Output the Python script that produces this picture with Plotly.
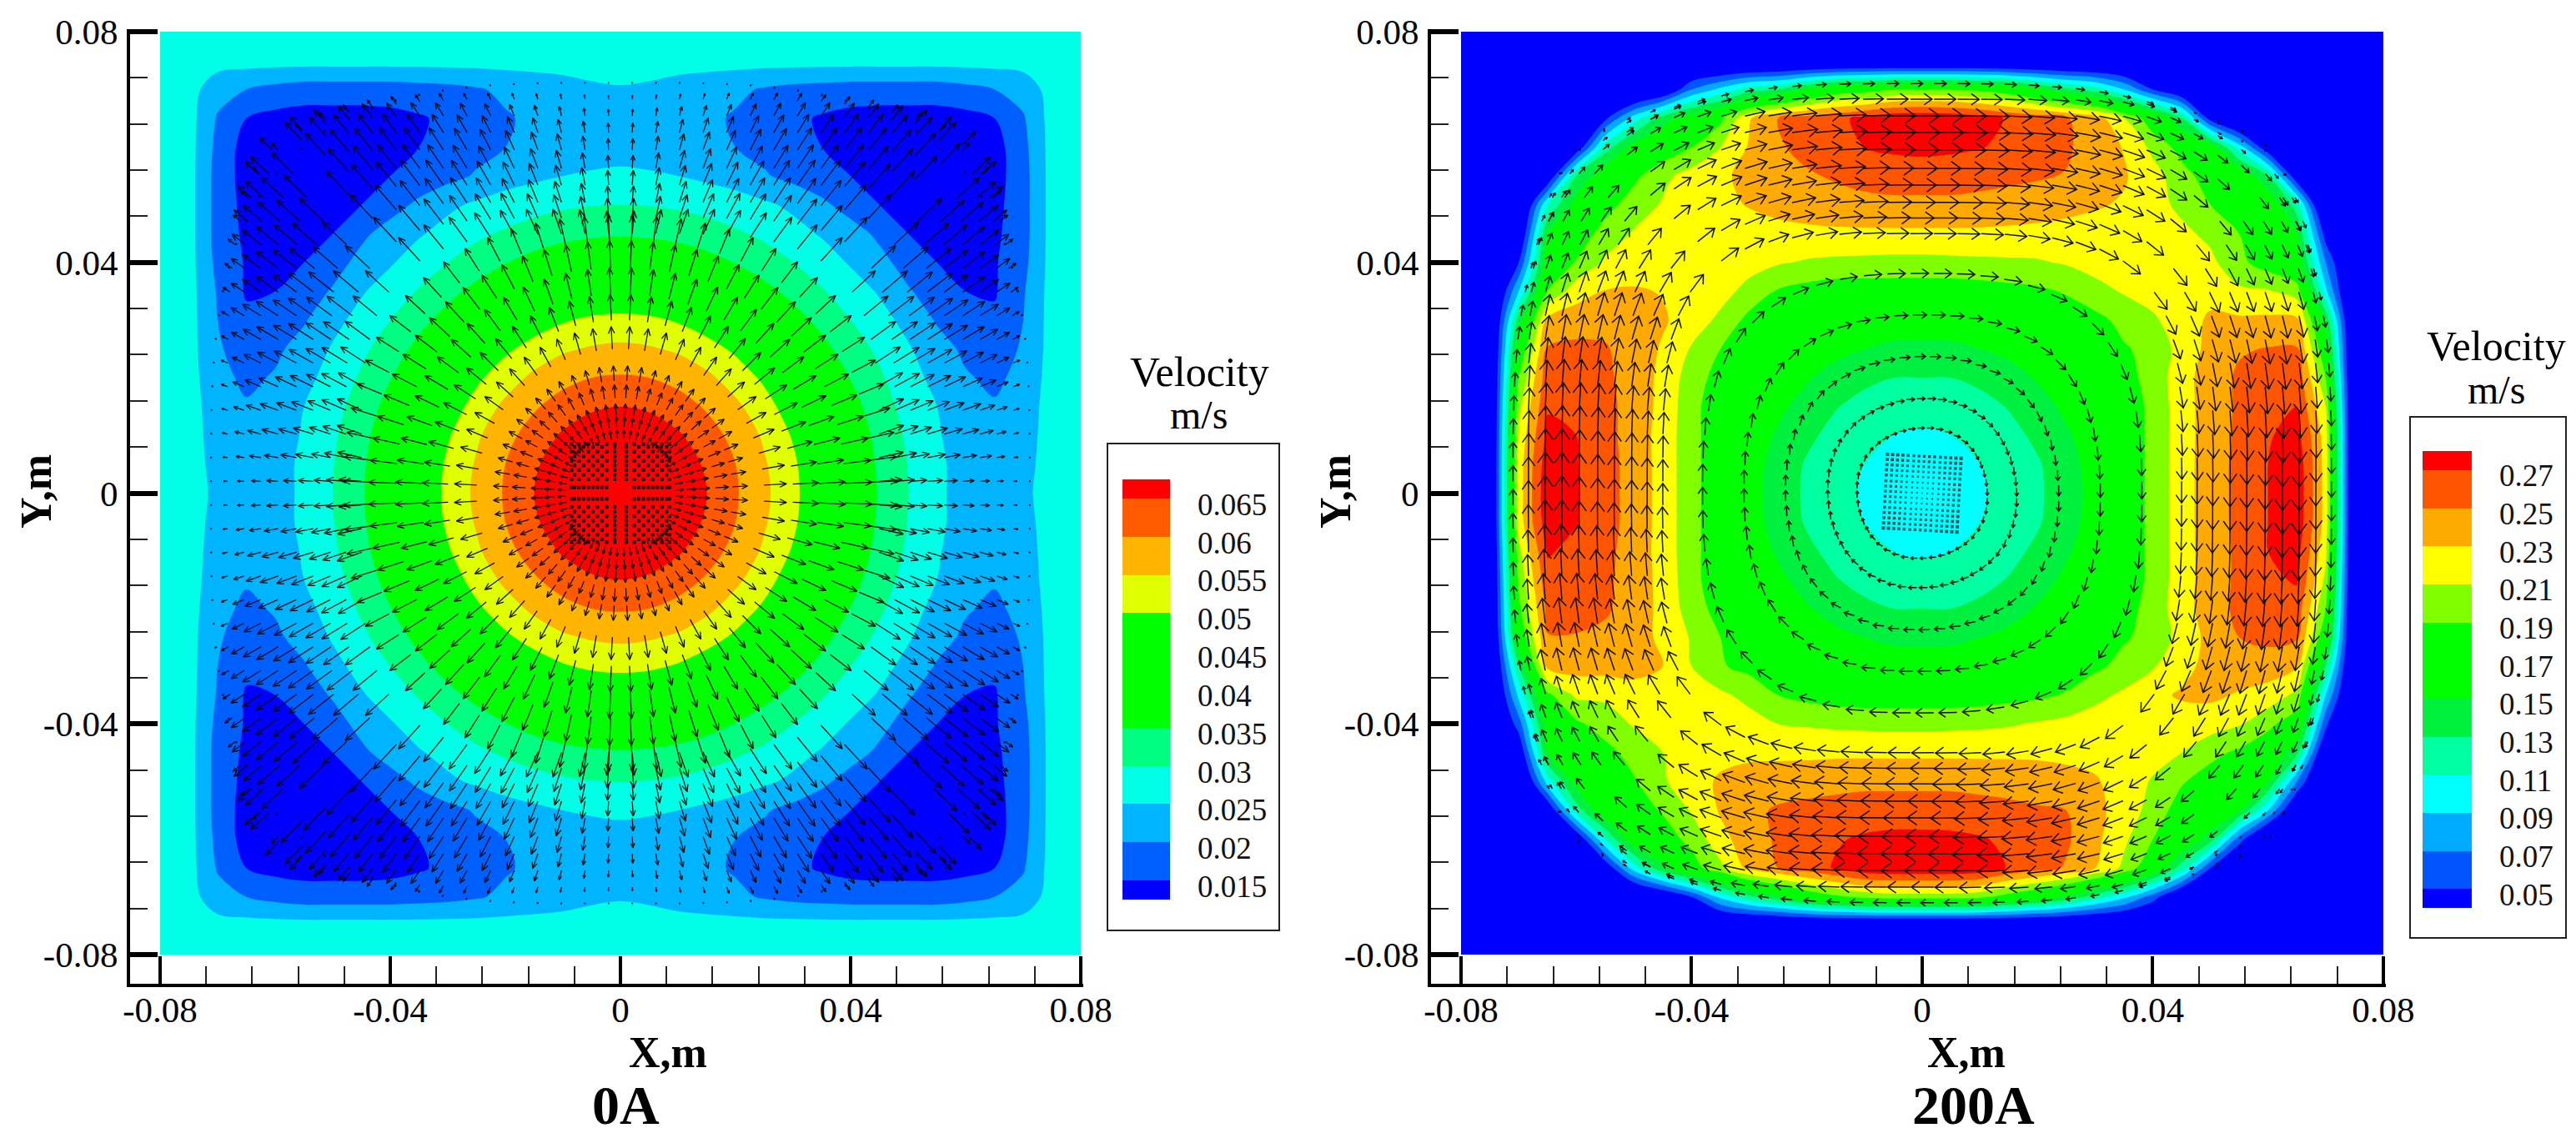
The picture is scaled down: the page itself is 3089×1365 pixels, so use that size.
import numpy as np
import plotly.graph_objects as go

W, H = 3089, 1365
FONT = "Liberation Serif"

# ---------- shared grid of the two velocity fields (m) ----------
GRID_X = [-.08,-.075,-.07,-.065,-.06,-.055,-.05,-.045,-.04,-.035,-.03,-.025,-.02,-.015,-.01,-.005,0,
          .005,.01,.015,.02,.025,.03,.035,.04,.045,.05,.055,.06,.065,.07,.075,.08]
GRID_Y = GRID_X[::-1]

# ---------- 0A: velocity (1e-3 m/s), upper-left quadrant, x -80..0, y 80..0 (the picture is mirror symmetric) ----------
V0_QUAD = [
 [27,27,27,27,27,27,27,27,27,27,27,27,27,27,27,27,27],
 [27,27,27,27,27,27,27,27,27,27,27,27,27,27,27,27.5,28],
 [27,27,22,20,18.5,17.5,17.5,17.5,17.5,18,18.5,19.5,21,22,23,24,24.5],
 [27,27,19.5,15,13.5,13,13,13,13.5,14.5,16,17.5,19.5,21,22,22.5,22.5],
 [27,27,18.5,13,12.5,12,12,12.5,13.5,15,16.5,18.5,20,21.5,22.5,23,23],
 [27,27,18,13,12.5,12,12.5,13.5,15,17,18.5,20.5,23,24,25,25.5,26],
 [27,27,18,13.5,13,13,14,15,18,21,24,25.8,27,28.2,29.2,29.8,30],
 [27,27,18,14,13.5,14,15,19,22,24.5,26.7,29,30.7,32.3,33.5,34.2,34.5],
 [27,27,18.5,14.5,14.5,15,18,21.5,24.5,27.4,30,32.4,34.8,36.8,38.3,39.2,39.5],
 [27,27,19.5,14.5,15,17.5,20.5,24.5,27.4,30.4,33.5,36.5,39.2,41.6,43.5,44.6,45],
 [27,27,20,16,17,19.5,23.5,26.7,30,33.5,37,40.6,44,47,49.5,51,51.5],
 [27,27,20.5,18,19,22,25.5,29,32.4,36.5,40.6,44.6,49,52.2,54.3,55.5,56],
 [27,27,21.5,19,20.5,23.5,27,30.7,34.8,39.2,44,49,53,56,58.4,60,60.5],
 [27,27,22.5,20.5,22,25,28.2,32.3,36.8,41.6,47,52.2,56,59.4,62.3,64.3,65],
 [27,27,23,21.5,22.5,25.5,29.2,33.5,38.3,43.5,49.5,54.3,58.4,62.3,65.6,67.7,68.5],
 [27,27,23.5,22,23,26,29.8,34.2,39.2,44.6,51,55.5,60,64.3,67.7,70,71],
 [27,27,24,22,23,26,30,34.5,39.5,45,51.5,56,60.5,65,68.5,71,72],
]

# ---------- 200A: velocity (1e-3 m/s), rows y 80..-80, columns x -80..80 ----------
V200 = [
 [0]*33,
 [0]*33,
 [0,0,0,0,0,0,0,20,70,95,120,130,155,175,180,190,190, 190,185,175,155,135,120,90,50,20,0,0,0,0,0,0,0],
 [0,0,0,0,0,45,100,140,165,185,228,250,258,265,275,285,288, 285,278,268,262,252,240,210,175,130,40,0,0,0,0,0,0],
 [0,0,0,0,30,120,160,175,190,210,232,248,255,262,270,274,276, 274,271,266,260,253,240,229,205,182,165,100,30,0,0,0,0],
 [0,0,0,25,130,168,185,205,218,226,236,243,248,252,256,258,258, 258,256,254,252,249,240,232,218,198,180,170,130,30,0,0,0],
 [0,0,0,110,160,182,200,212,220,226,231,236,240,243,245,246,246, 246,245,243,240,237,232,228,218,205,190,178,170,120,0,0,0],
 [0,0,20,150,178,198,212,218,222,222,223,224,225,226,226,226,226, 226,226,225,224,222,222,222,220,215,205,190,175,150,40,0,0],
 [0,0,50,165,192,213,220,225,225,222,218,212,208,206,205,204,204, 205,206,207,208,212,218,222,222,222,215,195,180,165,70,0,0],
 [0,0,90,190,222,231,232,229,225,218,203,188,182,178,178,178,178, 178,180,183,186,192,203,212,220,224,226,214,212,200,95,0,0],
 [0,0,140,235,240,243,242,232,222,205,184,178,172,167,162,160,160, 160,162,167,172,178,184,196,206,224,232,233,234,235,145,0,0],
 [0,0,170,252,255,252,240,228,208,190,180,172,165,156,150,146,145, 146,150,156,165,172,180,188,196,218,236,248,251,252,170,0,0],
 [0,0,190,262,262,254,241,225,200,182,176,165,152,141,134,130,130, 130,134,141,152,165,176,182,198,222,240,253,262,265,190,0,0],
 [0,0,205,268,266,256,242,224,197,176,167,155,141,131,124,120,118, 120,124,131,141,155,167,176,196,221,240,253,265,270,210,0,0],
 [0,0,215,275,270,256,242,222,197,176,163,147,134,124,116,110,107, 110,116,124,134,147,163,175,196,221,240,254,268,278,220,0,0],
 [0,0,220,282,271,257,243,222,197,176,160,141,128,119,110,102,99, 102,110,119,128,141,160,175,196,221,241,255,270,284,222,0,0],
 [0,0,220,285,272,257,243,222,197,176,158,140,127,118,107,99,95, 99,107,118,127,140,158,175,196,221,241,255,270,285,222,0,0],
 [0,0,220,282,271,257,243,222,197,176,160,141,128,119,110,102,99, 102,110,119,128,141,160,175,196,221,241,255,270,284,222,0,0],
 [0,0,205,272,265,255,242,222,197,176,163,147,134,124,116,110,107, 110,116,124,134,147,163,175,196,221,240,254,270,278,215,0,0],
 [0,0,195,264,260,254,241,224,197,176,167,155,141,131,124,120,118, 120,124,131,141,155,167,176,196,221,240,254,266,272,205,0,0],
 [0,0,185,256,256,253,240,225,200,182,176,165,152,141,134,130,130, 130,134,141,152,165,176,182,198,222,240,255,262,262,190,0,0],
 [0,0,170,249,249,245,238,226,208,190,180,172,165,156,150,146,145, 146,150,156,165,172,180,188,196,218,236,250,255,253,170,0,0],
 [0,0,130,236,238,238,235,230,210,192,184,178,172,167,162,160,160, 160,162,167,172,178,186,196,208,224,236,240,240,232,130,0,0],
 [0,0,95,185,214,214,224,225,222,214,204,190,184,180,178,178,178, 178,180,183,186,192,204,214,226,232,234,228,222,205,90,0,0],
 [0,0,60,165,186,200,212,220,224,222,218,210,208,206,205,204,204, 205,206,208,212,216,221,224,224,222,219,212,196,175,55,0,0],
 [0,0,28,150,172,183,198,210,222,226,226,225,225,226,226,226,226, 226,226,226,226,225,224,222,218,210,196,186,172,135,15,0,0],
 [0,0,0,100,160,175,188,207,224,232,238,242,244,245,246,246,246, 246,245,244,241,237,232,222,208,192,180,170,150,70,0,0,0],
 [0,0,0,25,120,168,180,192,212,232,246,252,254,256,258,258,258, 258,256,254,252,250,235,222,202,180,172,150,90,15,0,0,0],
 [0,0,0,0,25,110,165,180,196,224,240,253,260,268,273,276,276, 275,272,266,260,253,235,214,190,172,140,60,0,0,0,0,0],
 [0,0,0,0,0,30,100,145,180,205,236,250,260,272,285,288,288, 288,284,268,258,248,230,205,170,120,50,0,0,0,0,0,0],
 [0,0,0,0,0,0,0,20,50,95,125,145,170,185,195,200,200, 200,195,180,165,145,120,95,60,15,0,0,0,0,0,0,0],
 [0]*33,
 [0]*33,
]

# ---------- legends ----------
LEVELS0 = ["0.015","0.02","0.025","0.03","0.035","0.04","0.045","0.05","0.055","0.06","0.065"]
COLORS0 = ["#0000ff","#0060ff","#00b4ff","#00ffe6","#00ff80","#00ff00","#00ff00","#00ff00",
           "#e0ff00","#ffb400","#ff5a00","#ff0000"]
LEVELS200 = ["0.05","0.07","0.09","0.11","0.13","0.15","0.17","0.19","0.21","0.23","0.25","0.27"]
COLORS200 = ["#0000ff","#0055ff","#00aaff","#00ffff","#00ffa0","#00f040","#00ff00","#00ff00",
             "#80ff00","#ffff00","#ffaa00","#ff5500","#ff0000"]
AXIS_TICKS = [-.08,-.04,0,.04,.08]
AXIS_TEXT = ["-0.08","-0.04","0","0.04","0.08"]

# ---------- vector mesh: inner rings with evenly spread spokes ----------
RING0 =     [.0095,.0115,.0135,.0165,.0195,.025,.030,.0345,.039,.0435]
RING0_N =   [56,56,56,56,56,56,60,64,72,72]
RING0_P =   [2,2,2,2,2,2,2,2.1,2.2,2.4]
RING0_LEN = [10,12,14,16,18,27,31,32,33,32]
CORE0 =     [.0024,.0032,.004,.0048,.0056,.0064,.0072,.008,.0085]

RING200 =   [.0113,.0164,.0237,.0309,.0381]
RING200_N = [44,56,56,60,60]
RING200_P = [2.1,2.1,2.2,2.4,2.7]
CORE200 =   [-.0064,-.0055,-.0046,-.0037,-.0028,-.0018,-.0009,0,.0009,.0018,.0028,.0037,.0046,.0055,.0064]
CORE200_TILT_DEG = -3.2

# outer rows of the mesh: flat across the corners, on a lattice of columns
LATTICE_R =    [.045,.0477,.0504,.0534,.0563,.0595,.0625,.0654,.0683,.071]
LATTICE_P =    [4,5,7,10,12,12,12,8,5,3.3]
LATTICE_STEP = .0041
LATTICE0_AX =  [26,22,18,16,14,12,10,7,4,1.5]
LATTICE0_DG =  [38,40,40,40,38,36,30,22,12,3]
FLOW_P = 3.0

gx = np.array(GRID_X)
gy = np.array(GRID_Y)
q = np.array(V0_QUAD, dtype=float)
top = np.hstack([q, q[:, -2::-1]])
Z0 = np.vstack([top, top[-2::-1]])
Z200 = np.array(V200, dtype=float)
assert Z0.shape == (33, 33) and Z200.shape == (33, 33)


def sample(Z, x, y):
    i = np.clip(np.searchsorted(gx, x) - 1, 0, 31)
    j = np.clip(np.searchsorted(-gy, -y) - 1, 0, 31)
    tx = (x - gx[i]) / (gx[i + 1] - gx[i])
    ty = (gy[j] - y) / (gy[j] - gy[j + 1])
    return ((1 - tx) * (1 - ty) * Z[j, i] + tx * (1 - ty) * Z[j, i + 1]
            + (1 - tx) * ty * Z[j + 1, i] + tx * ty * Z[j + 1, i + 1])


def ring_point(r, p, t):
    c, s = np.cos(t), np.sin(t)
    k = (abs(c) ** p + abs(s) ** p) ** (-1 / p)
    return r * k * c, r * k * s


def lattice_nodes(r, p):
    """Nodes of one outer ring: the four sides, on shared columns."""
    c = r * 2 ** (-1 / p)
    n = int(c / LATTICE_STEP)
    out = []
    for k in range(-n, n + 1):
        a = (k + .5) * LATTICE_STEP
        if abs(a) > c:
            continue
        b = r * (1 - abs(a / r) ** p) ** (1 / p)
        out += [(a, b), (-a, -b), (b, -a), (-b, a)]
    return out


def add_arrow(xs, ys, x0, y0, ux, uy, L, head, phi, scale):
    L /= scale
    head /= scale
    tx, ty = x0 + ux * L, y0 + uy * L
    cp, sp = np.cos(phi), np.sin(phi)
    ax, ay = -(ux * cp - uy * sp) * head, -(ux * sp + uy * cp) * head
    bx, by = -(ux * cp + uy * sp) * head, -(-ux * sp + uy * cp) * head
    xs += [x0, tx, None, tx + ax, tx, tx + bx, None]
    ys += [y0, ty, None, ty + ay, ty, ty + by, None]


# 0A arrows: outward along the spokes, leaning to the corners in the lobes
ax0, ay0 = [], []
for r, n, p, L in zip(RING0, RING0_N, RING0_P, RING0_LEN):
    for k in range(n):
        x, y = ring_point(r, p, 2 * np.pi * (k + .5) / n)
        d = np.hypot(x, y)
        add_arrow(ax0, ay0, x, y, x / d, y / d, L, min(9, max(1.5, .42 * L)), .42, 6900)
for r, p, la, ld in zip(LATTICE_R, LATTICE_P, LATTICE0_AX, LATTICE0_DG):
    for x, y in lattice_nodes(r, p):
        d = np.hypot(x, y)
        ux, uy = x / d, y / d
        w = 2 * abs(ux * uy)
        L = la + (ld - la) * w
        bx, by = np.sign(x) * .707, np.sign(y) * .707
        ux, uy = ux + .6 * w * bx, uy + .6 * w * by
        e = np.hypot(ux, uy)
        add_arrow(ax0, ay0, x, y, ux / e, uy / e, L, min(9, max(1.5, .42 * L)), .42, 6900)


# 200A arrows: clockwise, length from the velocity field
def flow_arrow(xs, ys, x, y):
    f = FLOW_P - 1
    ux, uy = np.sign(y) * abs(y) ** f, -np.sign(x) * abs(x) ** f
    e = np.hypot(ux, uy)
    L = max(1.5, .16 * (sample(Z200, x, y) - 60))
    add_arrow(xs, ys, x, y, ux / e, uy / e, L, min(16, max(1.5, .45 * L)), .62, 6912)


ax2, ay2 = [], []
for r, n, p in zip(RING200, RING200_N, RING200_P):
    for k in range(n):
        x, y = ring_point(r, p, 2 * np.pi * (k + .5) / n)
        flow_arrow(ax2, ay2, x, y)
for r, p in zip(LATTICE_R, LATTICE_P):
    for x, y in lattice_nodes(r, p):
        flow_arrow(ax2, ay2, x, y)

# centre squares
cx0, cy0 = [], []
for i, a in enumerate(CORE0):
    for j, b in enumerate(CORE0):
        if (i + j) % 2 == 0:
            for sa in (-1, 1):
                for sb in (-1, 1):
                    cx0.append(sa * a)
                    cy0.append(sb * b)
    for sa in (-1, 1):
        for sb in (-1, 1):
            cx0 += [sa * a, sa * .001]
            cy0 += [sb * .001, sb * a]

tilt = np.deg2rad(CORE200_TILT_DEG)
cx2, cy2, cs2 = [], [], []
for a in CORE200:
    for b in CORE200:
        cx2.append(a * np.cos(tilt) - b * np.sin(tilt))
        cy2.append(a * np.sin(tilt) + b * np.cos(tilt))
        cs2.append(1.6 + 2.4 * np.hypot(a, b) / .009)


def band_scale(colors):
    n = len(colors) - 1
    return [[i / n, c] for i, c in enumerate(colors)]


fig = go.Figure()

fig.add_trace(go.Contour(
    x=GRID_X, y=GRID_Y, z=Z0, xaxis="x", yaxis="y",
    contours=dict(start=15, end=65, size=5, coloring="fill", showlines=False),
    line=dict(width=0), colorscale=band_scale(COLORS0), hoverinfo="skip",
    colorbar=dict(
        x=1346 / W, xanchor="left", xpad=0, y=1 - (575 + 1079) / 2 / H, yanchor="middle", ypad=0,
        lenmode="pixels", len=504, thicknessmode="pixels", thickness=57, outlinewidth=0, borderwidth=0,
        tickmode="array", tickvals=[15 + 5 * i - .76 for i in range(11)], ticktext=LEVELS0,
        ticks="outside", ticklen=26, tickcolor="rgba(0,0,0,0)",
        tickfont=dict(family=FONT, size=37, color="#111"))))
fig.add_trace(go.Scatter(x=ax0, y=ay0, xaxis="x", yaxis="y", mode="lines", hoverinfo="skip", showlegend=False,
                         line=dict(color="rgba(0,0,0,0.92)", width=1.3)))
fig.add_trace(go.Scatter(x=cx0, y=cy0, xaxis="x", yaxis="y", mode="markers", hoverinfo="skip", showlegend=False,
                         marker=dict(symbol="square", size=4, color="#150000", line=dict(width=0))))

fig.add_trace(go.Contour(
    x=GRID_X, y=GRID_Y, z=Z200, xaxis="x2", yaxis="y2",
    contours=dict(start=50, end=270, size=20, coloring="fill", showlines=False),
    line=dict(width=0), colorscale=band_scale(COLORS200), hoverinfo="skip",
    colorbar=dict(
        x=2905 / W, xanchor="left", xpad=0, y=1 - (541 + 1089) / 2 / H, yanchor="middle", ypad=0,
        lenmode="pixels", len=548, thicknessmode="pixels", thickness=59, outlinewidth=0, borderwidth=0,
        tickmode="array", tickvals=[50 + 20 * i - 2.8 for i in range(12)], ticktext=LEVELS200,
        ticks="outside", ticklen=26, tickcolor="rgba(0,0,0,0)",
        tickfont=dict(family=FONT, size=37, color="#111"))))
fig.add_trace(go.Scatter(x=ax2, y=ay2, xaxis="x2", yaxis="y2", mode="lines", hoverinfo="skip", showlegend=False,
                         line=dict(color="rgba(0,0,0,0.92)", width=1.5)))
fig.add_trace(go.Scatter(x=cx2, y=cy2, xaxis="x2", yaxis="y2", mode="markers", hoverinfo="skip", showlegend=False,
                         marker=dict(symbol="square", size=cs2, color="#001018", line=dict(width=0))))


def axis_common(width):
    return dict(
        tickmode="array", tickvals=AXIS_TICKS, ticktext=AXIS_TEXT,
        ticks="inside", ticklen=33, tickwidth=width, tickcolor="black",
        minor=dict(dtick=.008, tick0=-.08, ticks="inside", ticklen=21, tickwidth=1.6, tickcolor="#222", showgrid=False),
        showline=True, linecolor="black", linewidth=4, mirror=False, showgrid=False, zeroline=False,
        tickfont=dict(family=FONT, size=43, color="black"))


def xa(l, r, x0, scale, anchor):
    return dict(domain=[l / W, r / W], range=[-.08 - (x0 - l) / scale, .08 + (r - x0 - .16 * scale) / scale],
                anchor=anchor, ticklabelstandoff=-10, **axis_common(4))


def ya(anchor):
    return dict(domain=[1 - 1180 / H, 1 - 35 / H], range=[-.08 - 35 / 6919, .08 + 3 / 6919],
                anchor=anchor, ticklabelstandoff=2, **axis_common(6))


def note(text, x, y, size, bold=False, angle=0):
    return dict(text=f"<b>{text}</b>" if bold else text, x=x / W, y=1 - y / H, xref="paper", yref="paper",
                xanchor="center", yanchor="middle", showarrow=False, textangle=angle,
                font=dict(family=FONT, size=size, color="black"))


fig.update_layout(
    width=W, height=H, margin=dict(l=0, r=0, t=0, b=0, autoexpand=False), paper_bgcolor="white", plot_bgcolor="white",
    showlegend=False,
    xaxis=xa(156, 1299, 192, 6900, "y"), yaxis=ya("x"),
    xaxis2=xa(1716, 2861, 1752, 6912, "y2"), yaxis2=ya("x2"),
    annotations=[
        note("X,m", 801, 1262, 52, True), note("0A", 750, 1325, 66, True),
        note("Y,m", 43, 590, 52, True, -90),
        note("X,m", 2358, 1262, 52, True), note("200A", 2366, 1325, 66, True),
        note("Y,m", 1601, 590, 52, True, -90),
        note("Velocity", 1438, 446, 50), note("m/s", 1437, 497, 48),
        note("Velocity", 2993, 415, 50), note("m/s", 2993, 467, 48),
    ],
    shapes=[
        dict(type="rect", xref="paper", yref="paper", x0=1328 / W, x1=1534 / W, y0=1 - 1116 / H, y1=1 - 532 / H,
             line=dict(color="#222", width=2)),
        dict(type="rect", xref="paper", yref="paper", x0=2890 / W, x1=3077 / W, y0=1 - 1125 / H, y1=1 - 500 / H,
             line=dict(color="#222", width=2)),
    ],
)
fig.write_html("out.html", config=dict(displayModeBar=False),
               post_script="document.body.style.margin='0';document.body.style.overflow='hidden';")
